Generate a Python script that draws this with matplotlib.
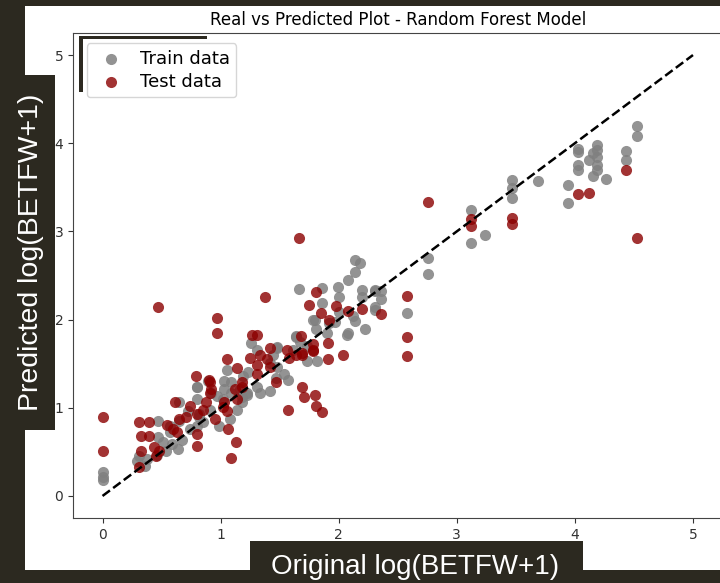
import matplotlib
matplotlib.use('Agg')
import matplotlib.pyplot as plt
from matplotlib.patches import Rectangle

# test data (red)
test_x = [0, 0, 0.47, 0.97, 0.97, 1.38, 1.66, 2.76, 2.58, 2.58, 2.58, 2.04, 3.12, 3.12,
          3.47, 3.47, 4.03, 4.12, 4.43, 4.53, 1.81, 1.75, 1.85, 1.98, 2.08, 2.20, 2.36,
          1.92, 1.68, 1.27, 1.31, 1.42, 1.78, 1.91, 1.05, 1.14, 0.79, 0.90, 0.61, 1.25,
          1.31, 1.39, 1.47, 1.57, 1.69, 1.71, 1.80, 1.81, 1.86, 1.12, 1.18, 1.31, 1.42,
          1.33, 1.58, 1.64, 1.69, 1.78, 1.56, 0.91, 1.03, 1.05, 0.85, 0.74, 0.88, 0.31,
          0.39, 0.33, 0.39, 0.33, 0.31, 0.44, 0.45, 0.55, 0.60, 0.65, 0.71, 0.80, 0.63,
          0.80, 0.80, 0.95, 1.06, 1.13, 1.09, 0.92, 1.02, 0.91, 1.18, 1.14, 0.48, 1.78,
          1.91, 1.69]
test_y = [0.90, 0.51, 2.14, 2.02, 1.85, 2.26, 2.92, 3.33, 2.27, 1.80, 1.59, 1.60, 3.14, 3.06,
          3.15, 3.08, 3.42, 3.44, 3.70, 2.93, 2.31, 2.17, 2.07, 2.15, 2.10, 2.12, 2.06,
          1.99, 1.81, 1.83, 1.83, 1.68, 1.72, 1.74, 1.55, 1.45, 1.36, 1.31, 1.06, 1.57,
          1.49, 1.55, 1.29, 0.98, 1.23, 1.12, 1.14, 1.02, 0.95, 1.21, 1.29, 1.38, 1.46,
          1.60, 1.57, 1.60, 1.62, 1.66, 1.66, 1.17, 1.06, 0.96, 0.98, 1.02, 1.06, 0.84,
          0.84, 0.68, 0.68, 0.51, 0.33, 0.55, 0.45, 0.81, 0.76, 0.87, 0.90, 0.93, 0.72,
          0.70, 0.57, 0.87, 0.76, 0.61, 0.43, 1.21, 1.01, 1.29, 1.24, 1.10, 0.51, 1.64,
          1.55, 1.60]

# train data (grey)
train_x = [4.53, 4.53, 4.43, 4.43, 4.03, 4.03, 4.03, 4.03, 4.12, 4.15, 4.19, 4.19, 4.19, 4.19,
           4.19, 4.15, 4.26, 3.94, 3.94, 3.69, 3.47, 3.47, 3.47, 3.24, 3.12, 3.12, 2.76,
           2.76, 2.58, 2.14, 2.18, 2.14, 2.08, 1.99, 1.86, 2.20, 2.20, 2.31, 2.36, 2.36,
           2.31, 2.14, 2.22, 2.08, 2.00, 1.86, 1.80, 2.12, 1.66, 2.00, 1.92, 1.81, 1.64,
           1.48, 2.31, 2.31, 1.26, 1.31, 1.44, 1.48, 1.61, 1.64, 1.67, 1.73, 1.78, 1.05,
           1.03, 0.80, 1.42, 1.48, 1.54, 1.57, 1.47, 1.23, 1.19, 1.09, 1.03, 0.97, 0.92,
           0.80, 0.65, 0.72, 0.82, 1.16, 1.22, 1.31, 1.33, 1.42, 1.18, 2.07, 1.97, 1.82,
           1.73, 1.90, 0, 0, 0, 0.47, 0.57, 0.47, 0.51, 0.31, 0.29, 0.38, 0.36, 0.46,
           0.54, 0.64, 0.59, 0.67, 0.74, 0.80, 0.85, 0.65, 0.57, 0.82, 0.91, 1.02, 1.09,
           1.18, 1.22, 1.08, 0.99, 1.14, 0.80, 0.89]
train_y = [4.19, 4.08, 3.91, 3.81, 3.94, 3.90, 3.75, 3.70, 3.81, 3.89, 3.98, 3.92, 3.84, 3.75,
           3.70, 3.63, 3.60, 3.53, 3.32, 3.57, 3.58, 3.49, 3.38, 2.96, 3.24, 2.87, 2.70,
           2.52, 2.07, 2.68, 2.64, 2.54, 2.45, 2.37, 2.36, 2.34, 2.26, 2.34, 2.32, 2.23,
           2.11, 1.98, 1.89, 1.85, 2.26, 2.19, 2.00, 2.04, 2.35, 2.09, 1.96, 1.89, 1.81,
           1.69, 2.14, 2.32, 1.74, 1.66, 1.60, 1.68, 1.66, 1.80, 1.75, 1.70, 2.00, 1.43,
           1.30, 1.23, 1.51, 1.46, 1.38, 1.32, 1.34, 1.41, 1.36, 1.29, 1.21, 1.13, 1.17,
           1.10, 1.07, 0.96, 0.93, 1.21, 1.15, 1.24, 1.17, 1.19, 1.06, 1.83, 1.97, 1.53,
           1.53, 1.85, 0.27, 0.21, 0.18, 0.85, 0.79, 0.67, 0.61, 0.45, 0.40, 0.42, 0.34,
           0.47, 0.51, 0.53, 0.59, 0.64, 0.76, 0.79, 0.84, 0.85, 0.72, 0.89, 0.98, 1.10,
           1.17, 1.12, 1.17, 0.87, 0.79, 0.98, 1.24, 1.30]

dark = '#2c2920'
fig = plt.figure(figsize=(7.2, 5.83), dpi=100, facecolor=dark)
W, H = 720, 583

def px_rect(x0, y0, x1, y1, color, z):
    # rectangle given in pixel coords from top-left
    r = Rectangle((x0 / W, 1 - y1 / H), (x1 - x0) / W, (y1 - y0) / H,
                  transform=fig.transFigure, facecolor=color, edgecolor='none', zorder=z)
    fig.add_artist(r)

px_rect(25, 6, 720, 570, 'white', -5)

ax = fig.add_axes([73 / W, 1 - 518 / H, 649.5 / W, 485 / H])
ax.scatter(train_x, train_y, color='gray', alpha=0.85, s=64, linewidths=0, label='Train data')
ax.scatter(test_x, test_y, color='darkred', alpha=0.8, s=64, linewidths=0, label='Test data')
ax.plot([0, 5], [0, 5], 'k--', lw=1.8)
ax.set_xlim(-0.25, 5.25)
ax.set_ylim(-0.25, 5.25)
ax.set_xticks([0, 1, 2, 3, 4, 5])
ax.set_yticks([0, 1, 2, 3, 4, 5])
ax.tick_params(labelsize=10, colors='#333333')
for sp in ax.spines.values():
    sp.set_color('#444444')
ax.set_title('Real vs Predicted Plot - Random Forest Model', fontsize=12, pad=6)
ax.legend(loc='upper left', fontsize=13, borderpad=0.35, handletextpad=0.6,
          labelspacing=0.3, bbox_to_anchor=(0.021, 0.979), borderaxespad=0)

# dark overlays from the slide
px_rect(0, 75, 55, 430, dark, 5)
px_rect(250, 541, 583, 583, dark, 5)
px_rect(79, 36, 207, 39, dark, 5)
px_rect(79, 36, 83, 92, dark, 5)

fig.text(31 / W, 1 - 252 / H, 'Predicted log(BETFW+1)', rotation=90, color='white',
         fontsize=20.5, family='Liberation Sans', ha='center', va='center', zorder=6)
fig.text(415 / W, 1 - 567 / H, 'Original log(BETFW+1)', color='white',
         fontsize=20, family='Liberation Sans', ha='center', va='center', zorder=6)

fig.savefig('out.png', dpi=100, facecolor=dark)
